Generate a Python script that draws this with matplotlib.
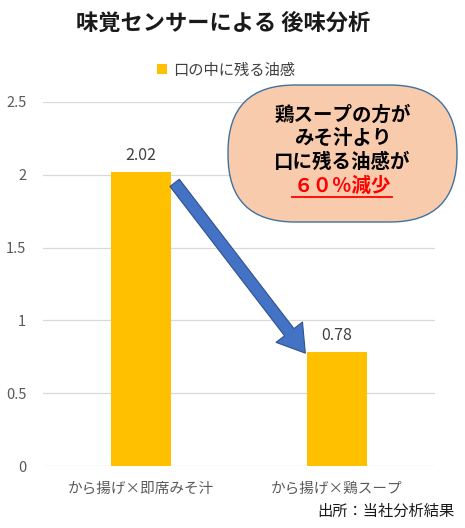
import matplotlib
matplotlib.use("Agg")
import matplotlib.pyplot as plt
from matplotlib.patches import FancyBboxPatch, Patch
from matplotlib.lines import Line2D

plt.rcParams['font.family'] = ['Noto Sans CJK JP', 'DejaVu Sans']

categories = ["から揚げ×即席みそ汁", "から揚げ×鶏スープ"]
values = [2.02, 0.78]
series_name = "口の中に残る油感"
yticks = [0, 0.5, 1, 1.5, 2, 2.5]
ytick_labels = ["0", "0.5", "1", "1.5", "2", "2.5"]
title = "味覚センサーによる 後味分析"
callout_lines = ["鶏スープの方が", "みそ汁より", "口に残る油感が"]
callout_red = "６０％減少"
source = "出所：当社分析結果"

W, H = 465, 528
fig = plt.figure(figsize=(W / 100, H / 100), dpi=100)
ax = fig.add_axes([43 / W, 62 / H, 392 / W, 364 / H])

x = list(range(len(categories)))
bars = ax.bar(x, values, width=0.31, color="#FFC000", zorder=2)
ax.set_xlim(-0.5, 1.5)
ax.set_ylim(0, 2.5)
ax.set_yticks(yticks)
ax.set_yticklabels(ytick_labels)
ax.set_xticks(x)
ax.set_xticklabels(categories)
ax.tick_params(axis="both", length=0, colors="#595959", labelsize=10.5)
ax.tick_params(axis="y", pad=12)
ax.tick_params(axis="x", pad=11)
for s in ax.spines.values():
    s.set_visible(False)
ax.grid(axis="y", color="#D9D9D9", linewidth=0.9, zorder=0)
ax.set_axisbelow(True)

for xi, v in zip(x, values):
    ax.annotate(f"{v:.2f}", xy=(xi, v), xytext=(0, 6), textcoords="offset points",
                ha="center", va="bottom", fontsize=11.5, color="#404040")

# arrow from first bar to second bar
ax.annotate("", xy=(x[1] - 0.153, values[1] - 0.02), xytext=(x[0] + 0.163, values[0] - 0.06),
            arrowprops=dict(arrowstyle="simple,head_width=2.4,head_length=1.9,tail_width=0.85",
                            mutation_scale=10, fc="#4472C4", ec="#2F528F", lw=0.8),
            zorder=5)

# title
fig.text(223 / W, 1 - 23 / H, title, ha="center", va="center", fontsize=16,
         fontweight="bold", color="#1a1a1a")

# legend
fig.legend(handles=[Patch(facecolor="#FFC000", edgecolor="none", label=series_name)],
           loc="center", bbox_to_anchor=(226 / W, 1 - 70 / H), frameon=False,
           handlelength=0.65, handleheight=0.65, handletextpad=0.4, fontsize=11,
           labelcolor="#404040")

# callout box
box = FancyBboxPatch((2.28, 3.06), 2.29, 1.37,
                     boxstyle="round,pad=0,rounding_size=0.67",
                     transform=fig.dpi_scale_trans, fc="#F8CBAD", ec="#41719C",
                     lw=1.0, zorder=6)
fig.patches.append(box)
cx = 342.5 / W
for i, line in enumerate(callout_lines):
    fig.text(cx, 1 - (115 + 23.5 * i) / H, line, ha="center", va="center",
             fontsize=14, fontweight="bold", color="#000000", zorder=7)
fig.text(cx, 1 - 186 / H, callout_red, ha="center", va="center",
         fontsize=14, fontweight="bold", color="#FF0000", zorder=7)
fig.add_artist(Line2D([292 / W, 392 / W], [1 - 197 / H, 1 - 197 / H],
                      color="#FF0000", lw=1.3, transform=fig.transFigure, zorder=7))

# source
fig.text(455 / W, 1 - 511 / H, source, ha="right", va="center", fontsize=11,
         color="#1a1a1a")

fig.savefig("out.png", dpi=100)
